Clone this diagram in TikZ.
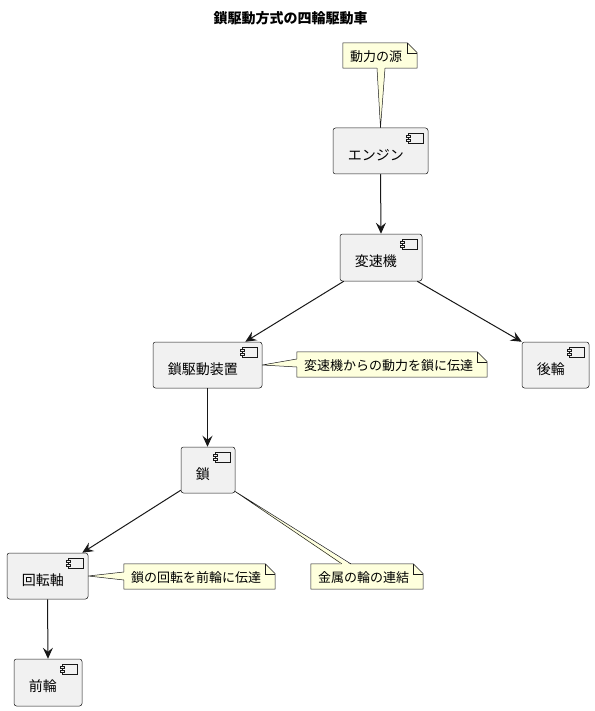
\documentclass[tikz,border=0pt]{standalone}
\usepackage{fontspec}
\setmainfont{Noto Sans CJK JP}
\usetikzlibrary{arrows.meta,calc,backgrounds}
\definecolor{linec}{HTML}{181818}
\definecolor{compfill}{HTML}{F1F1F1}
\definecolor{notefill}{HTML}{FEFFDD}
\tikzset{
  comp/.style={draw=linec, fill=compfill, rounded corners=2.5pt, line width=.5pt,
    minimum height=46pt, inner sep=0pt},
  clbl/.style={anchor=west, inner sep=0pt, xshift=15pt, yshift=-4pt, font=\fontsize{14pt}{16pt}\selectfont},
  notebox/.style={minimum height=25pt, inner sep=0pt},
  nlbl/.style={anchor=west, inner sep=0pt, xshift=7pt, yshift=-1pt, font=\fontsize{13pt}{15pt}\selectfont},
  noteline/.style={draw=linec, line width=.5pt},
  arr/.style={draw=linec, line width=1pt, -{Stealth[length=11pt,width=10pt,inset=4pt]}},
  icon/.style={draw=linec, line width=.5pt, fill=compfill}
}
\newcommand{\cmpicon}[1]{%
  \draw[icon] ($(#1.north east)+(-20,5.5)$) rectangle ($(#1.north east)+(-5,15.5)$);
  \draw[icon] ($(#1.north east)+(-22,7.5)$) rectangle ($(#1.north east)+(-18,9.5)$);
  \draw[icon] ($(#1.north east)+(-22,11.5)$) rectangle ($(#1.north east)+(-18,13.5)$);
}
\newcommand{\notebody}[1]{%
  \filldraw[noteline, fill=notefill] (#1.north west) -- ($(#1.north east)+(-10,0)$) -- ($(#1.north east)+(0,10)$) -- (#1.south east) -- (#1.south west) -- cycle;
  \draw[noteline] ($(#1.north east)+(-10,0)$) -- ($(#1.north east)+(-10,10)$) -- ($(#1.north east)+(0,10)$);
}
\begin{document}
\begin{tikzpicture}[x=1pt,y=-1pt]
\useasboundingbox (0,0) rectangle (594,711);
% title
\node[font=\fontsize{14pt}{16pt}\selectfont\bfseries] (title) at (290.5,18) {鎖駆動方式の四輪駆動車};
% components
\node[comp, minimum width=95pt, label={[clbl]west:エンジン}] (eng) at (380.5,151) {};
\node[comp, minimum width=82pt, minimum height=47pt, label={[clbl]west:変速機}] (hs) at (381,257.5) {};
\node[comp, minimum width=109pt, label={[clbl]west:鎖駆動装置}] (ks) at (207.5,365) {};
\node[comp, minimum width=67pt, label={[clbl]west:後輪}] (kr) at (555.5,365) {};
\node[comp, minimum width=54pt, label={[clbl]west:鎖}] (k) at (208,470) {};
\node[comp, minimum width=81pt, label={[clbl]west:回転軸}] (kj) at (47.5,576) {};
\node[comp, minimum width=68pt, minimum height=47pt, label={[clbl]west:前輪}] (zr) at (48,682.5) {};
\cmpicon{eng}\cmpicon{hs}\cmpicon{ks}\cmpicon{kr}\cmpicon{k}\cmpicon{kj}\cmpicon{zr}
% notes
\node[notebox, minimum width=74pt, label={[nlbl]west:動力の源}] (n1) at (380,55.5) {};
\node[notebox, minimum width=190pt, label={[nlbl]west:変速機からの動力を鎖に伝達}] (n2) at (392,364.5) {};
\node[notebox, minimum width=151pt, label={[nlbl]west:鎖の回転を前輪に伝達}] (n3) at (199.5,576.5) {};
\node[notebox, minimum width=112pt, label={[nlbl]west:金属の輪の連結}] (n4) at (367,576.5) {};
\begin{scope}[on background layer]
\notebody{n1}\notebody{n2}\notebody{n3}\notebody{n4}
% note wedges
\fill[notefill] ($(n1.south)+(-3,-1)$) -- (eng.north) -- ($(n1.south)+(5,-1)$) -- cycle;
\draw[noteline] ($(n1.south)+(-3,0)$) -- (eng.north) -- ($(n1.south)+(5,0)$);
\fill[notefill] ($(n2.west)+(1,-5.5)$) -- (ks.east) -- ($(n2.west)+(1,2.5)$) -- cycle;
\draw[noteline] ($(n2.west)+(0,-5.5)$) -- (ks.east) -- ($(n2.west)+(0,2.5)$);
\fill[notefill] ($(n3.west)+(1,-4.5)$) -- (kj.east) -- ($(n3.west)+(1,3.5)$) -- cycle;
\draw[noteline] ($(n3.west)+(0,-4.5)$) -- (kj.east) -- ($(n3.west)+(0,3.5)$);
\coordinate (ktip) at ($(k.south east)+(-2,-3)$);
\fill[notefill] ($(n4.north west)+(31,1)$) -- (ktip) -- ($(n4.north west)+(40,1)$) -- cycle;
\draw[noteline] ($(n4.north west)+(31,0)$) -- (ktip) -- ($(n4.north west)+(40,0)$);
\end{scope}
% arrows
\draw[arr] (eng.south) -- (hs.north);
\draw[arr] ($(hs.south west)+(4,0)$) -- ($(ks.north east)+(-17,0)$);
\draw[arr] ($(hs.south east)+(-5,0)$) -- (kr.north west);
\draw[arr] (ks.south) -- (ks.south |- k.north);
\draw[arr] ($(k.south west)+(0,-3)$) -- ($(kj.north east)+(-6,0)$);
\draw[arr] (kj.south) -- (zr.north);
\end{tikzpicture}
\end{document}
